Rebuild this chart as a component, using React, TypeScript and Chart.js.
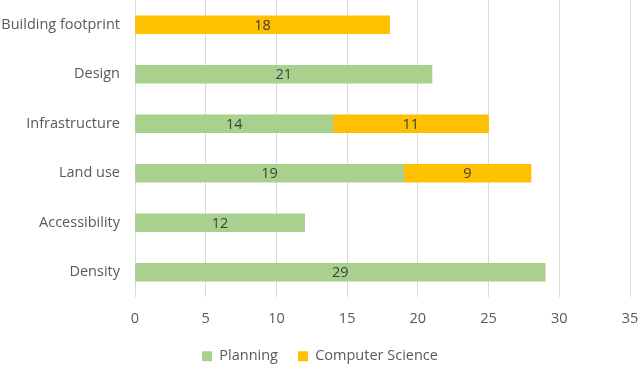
import React, { useEffect, useRef } from "react";
import { Chart, registerables } from "chart.js";

Chart.register(...registerables);

const categories = ["Building footprint", "Design", "Infrastructure", "Land use", "Accessibility", "Density"];
const planning = [null, 21, 14, 19, 12, 29];
const computerScience = [18, null, 11, 9, null, null];
const xTicks = [0, 5, 10, 15, 20, 25, 30, 35];

const FONT = "'Open Sans', 'Noto Sans', sans-serif";
const FS = 14.5;

const valueLabels = {
  id: "valueLabels",
  afterDatasetsDraw(chart: any) {
    const ctx = chart.ctx;
    ctx.save();
    ctx.font = `${FS}px ${FONT}`;
    ctx.fillStyle = "#404040";
    ctx.textAlign = "center";
    ctx.textBaseline = "middle";
    chart.data.datasets.forEach((ds: any, di: number) => {
      const meta = chart.getDatasetMeta(di);
      meta.data.forEach((el: any, i: number) => {
        const v = ds.data[i];
        if (v == null || v === 0) return;
        const cx = (el.x + el.base) / 2;
        ctx.fillText(String(v), cx, el.y + 1);
      });
    });
    ctx.restore();
  },
};

export default function App() {
  const ref = useRef<HTMLCanvasElement>(null);
  useEffect(() => {
    document.body.style.margin = "0";
    const chart = new Chart(ref.current!, {
      type: "bar",
      data: {
        labels: categories,
        datasets: [
          {
            label: "Planning",
            data: planning as any,
            backgroundColor: "#A9D18E",
            borderWidth: 0,
            barThickness: 18,
          },
          {
            label: "Computer Science",
            data: computerScience as any,
            backgroundColor: "#FFC000",
            borderWidth: 0,
            barThickness: 18,
          },
        ],
      },
      options: {
        indexAxis: "y",
        animation: false,
        responsive: true,
        maintainAspectRatio: false,
        layout: { padding: 0 },
        scales: {
          x: {
            stacked: true,
            min: 0,
            max: 35,
            afterBuildTicks: (scale: any) => {
              scale.ticks = xTicks.map((v) => ({ value: v }));
            },
            ticks: {
              color: "#595959",
              font: { family: FONT, size: FS },
              padding: 0,
            },
            grid: {
              color: "#D9D9D9",
              drawTicks: true,
              tickLength: 13,
              tickColor: "rgba(0,0,0,0)",
              lineWidth: 1,
            },
            border: { display: false },
            afterFit: (scale: any) => {
              scale.height = 32;
              scale.paddingLeft = 0;
              scale.paddingRight = 10;
            },
          },
          y: {
            stacked: true,
            ticks: {
              color: "#595959",
              font: { family: FONT, size: FS },
              padding: 0,
            },
            grid: { display: false, drawTicks: true, tickLength: 15 },
            border: { display: false },
            afterFit: (scale: any) => {
              scale.width = 135;
              scale.paddingTop = 0;
              scale.paddingBottom = 0;
            },
          },
        },
        plugins: {
          legend: {
            position: "bottom",
            maxHeight: 36,
            labels: {
              color: "#595959",
              font: { family: FONT, size: FS },
              boxWidth: 10,
              boxHeight: 10,
              padding: 20,
            },
          },
          tooltip: { enabled: false },
        },
      },
      plugins: [valueLabels],
    });
    return () => chart.destroy();
  }, []);
  return (
    <div style={{ width: 640, height: 365, position: "relative" }}>
      <canvas ref={ref} />
    </div>
  );
}
